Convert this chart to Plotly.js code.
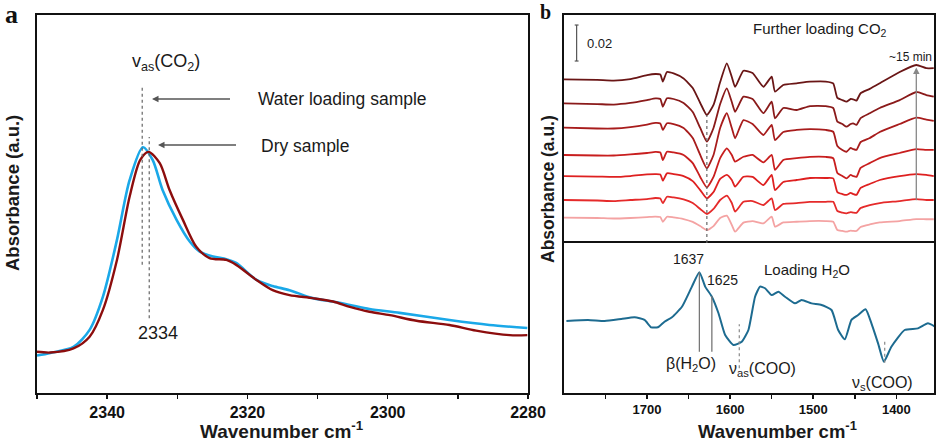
<!DOCTYPE html>
<html><head><meta charset="utf-8">
<script src="https://cdn.plot.ly/plotly-3.0.1.min.js"></script>
<style>html,body{margin:0;padding:0;background:#fff}#chart{width:942px;height:444px}</style>
</head><body><div id="chart"></div>
<script>
// ---------- Panel a : v_as(CO2) band ----------
const wnWater = [2350.0,2348.1,2344.8,2342.5,2340.6,2338.6,2336.8,2334.9,2333.5,2332.1,2330.1,2328.2,2326.8,2324.9,2323.0,2321.6,2318.7,2316.4,2314.0,2310.7,2307.8,2305.4,2302.6,2298.3,2291.2,2285.5,2280.1];
const absWater = [0.099,0.106,0.122,0.167,0.255,0.405,0.563,0.650,0.616,0.537,0.458,0.400,0.374,0.361,0.354,0.344,0.299,0.283,0.272,0.251,0.242,0.233,0.222,0.212,0.193,0.180,0.172];
const wnDry = [2350.0,2348.1,2344.8,2342.5,2340.6,2338.6,2336.8,2335.3,2334.1,2332.5,2331.1,2329.2,2327.3,2325.4,2323.0,2321.6,2318.7,2316.4,2314.0,2310.7,2307.8,2305.4,2302.6,2299.7,2295.9,2291.2,2287.4,2282.6,2280.1];
const absDry = [0.109,0.107,0.118,0.149,0.220,0.352,0.519,0.616,0.638,0.608,0.537,0.458,0.387,0.357,0.352,0.339,0.299,0.272,0.259,0.251,0.242,0.228,0.215,0.206,0.191,0.180,0.165,0.153,0.153];

// ---------- Panel b (top): further loading CO2, stacked spectra (x1e-3 a.u., offset) ----------
const wnCO2 = [1800,1760,1740,1720,1700,1690,1684,1681,1676,1668,1656,1645,1636,1628,1620,1612,1604,1598,1594,1584,1573,1560,1550,1546,1536,1520,1504,1485,1476,1471,1465,1460,1455,1452,1448,1443,1432,1420,1396,1376,1364,1355];
const co2_t7 = [90.9,90.6,90.2,91.1,93.3,93.9,93.6,89.7,95.0,94.2,91.4,86.1,77.8,71.1,76.7,89.4,99.8,92.2,86.7,95.7,94.4,86.8,92.4,84.1,87.8,88.7,89.6,89.7,88.7,80.6,79.4,78.5,80.0,79.8,79.1,83.2,85.6,88.7,95.0,98.9,97.1,97.1];
const co2_t6 = [77.6,77.2,76.9,77.8,79.4,80.3,80.0,75.7,80.4,80.0,77.8,72.8,63.9,56.3,63.9,77.2,85.9,78.3,72.9,81.3,80.0,72.1,78.5,69.3,75.0,73.9,76.1,76.1,75.0,67.4,66.1,64.6,66.1,66.5,65.6,69.4,72.1,75.0,79.4,83.9,82.2,81.3];
const co2_t5 = [64.1,63.6,63.6,64.4,65.8,66.7,66.4,62.8,66.5,66.1,63.9,58.3,48.9,41.5,48.9,63.9,72.1,63.9,58.2,68.3,66.1,60.0,65.6,57.2,61.7,62.8,63.3,62.8,61.8,53.9,51.7,50.7,52.8,52.2,51.7,56.1,58.3,61.7,66.1,69.6,68.6,67.9];
const co2_t4 = [48.9,48.6,48.6,49.2,50.0,50.6,50.3,46.1,50.7,50.3,48.9,44.4,36.7,30.9,36.7,47.2,52.6,48.9,45.2,47.9,48.9,44.8,48.9,40.6,46.1,47.1,47.8,47.8,47.1,38.9,37.2,35.9,37.8,37.2,36.7,41.7,44.4,47.2,50.0,52.2,51.7,51.7];
const co2_t3 = [37.2,36.9,36.7,37.2,38.1,38.3,38.1,34.6,38.7,38.3,37.2,34.4,29.4,24.8,28.3,35.6,37.8,35.0,31.3,36.8,36.7,32.2,37.8,29.4,33.9,35.0,36.1,36.1,35.9,28.3,27.2,26.7,27.8,27.2,26.7,30.6,32.8,35.0,37.2,38.3,37.8,37.2];
const co2_t2 = [23.9,23.6,23.3,23.9,24.4,25.0,24.7,22.1,25.7,25.3,24.2,22.2,18.9,16.1,18.9,23.9,26.3,22.2,17.4,22.9,23.3,21.1,24.8,18.3,21.7,22.1,22.8,22.9,22.9,17.8,16.9,16.5,17.2,16.9,16.7,19.4,21.1,22.2,23.3,24.4,23.9,23.9];
const co2_t1 = [14.1,13.9,13.6,13.9,14.4,14.7,14.4,11.8,14.6,14.2,13.3,11.7,9.4,7.2,9.4,13.9,15.2,10.0,6.3,11.3,12.2,10.9,14.6,9.1,11.4,11.8,12.2,12.2,11.8,7.2,6.7,6.3,6.9,6.7,6.7,8.9,10.3,11.4,12.2,13.3,13.2,13.2];
const co2Colors = ['#f4a3a3','#e52a2a','#de2020','#c81e1e','#a81c1c','#8a1a1a','#6a1616'];

// ---------- Panel b (bottom): loading H2O ----------
const wnH2O = [1797,1771,1751,1731,1715,1703,1695,1687,1679,1670,1658,1646,1637,1630,1622,1614,1606,1596,1586,1578,1570,1564,1558,1550,1542,1534,1522,1514,1502,1490,1478,1470,1462,1454,1446,1437,1430,1422,1415,1406,1390,1374,1362,1352];
const absH2O = [40.0,40.6,40.0,41.1,42.1,40.6,36.5,36.5,39.6,42.1,47.9,59.1,67.1,59.1,53.5,44.3,32.2,26.7,28.5,35.0,53.5,59.1,58.2,54.4,56.3,53.5,49.8,51.7,49.8,48.9,46.1,35.0,29.8,40.6,43.3,46.5,38.7,27.6,17.4,25.7,35.0,35.9,38.7,36.5];

const FONT = 'Liberation Sans, Arial, sans-serif';
const SERIF = 'Liberation Serif, Times New Roman, serif';
const W = 942, H = 444;
const X = p => p / W, Y = p => 1 - p / H;

const traces = [
  {x: wnWater, y: absWater, xaxis: 'x', yaxis: 'y', mode: 'lines', line: {color: '#1aa8e8', width: 2.6, shape: 'spline', smoothing: 0.8}},
  {x: wnDry, y: absDry, xaxis: 'x', yaxis: 'y', mode: 'lines', line: {color: '#8c0d0d', width: 2.4, shape: 'spline', smoothing: 0.8}},
];
const co2Series = [co2_t1, co2_t2, co2_t3, co2_t4, co2_t5, co2_t6, co2_t7];
co2Series.forEach((s, i) => traces.push({x: wnCO2, y: s, xaxis: 'x3', yaxis: 'y3', mode: 'lines',
  line: {color: co2Colors[i], width: 1.8, shape: 'spline', smoothing: 0.5}}));
traces.push({x: wnH2O, y: absH2O, xaxis: 'x2', yaxis: 'y2', mode: 'lines', line: {color: '#1d6b90', width: 2, shape: 'spline', smoothing: 0.5}});

const axLine = {showline: true, mirror: true, linecolor: '#111', linewidth: 1.8, showgrid: false, zeroline: false};
const tickStyle = {ticks: 'outside', ticklen: 4, tickwidth: 1.5, tickcolor: '#111'};

const ann = (text, px, py, size, extra) => Object.assign({xref: 'paper', yref: 'paper', x: X(px), y: Y(py), text: text, showarrow: false,
  font: {family: FONT, size: size, color: '#1a1a1a'}, xanchor: 'center', yanchor: 'middle'}, extra || {});

const annotations = [
  ann('<b>a</b>', 11.5, 14, 26, {font: {family: SERIF, size: 26, color: '#111'}}),
  ann('<b>b</b>', 545, 0, 20, {yanchor: 'top', borderpad: 0, font: {family: SERIF, size: 20, color: '#111'}}),
  ann('<b>Absorbance (a.u.)</b>', 12, 193, 18.5, {textangle: -90}),
  ann('<b>Absorbance (a.u.)</b>', 548, 189, 17.5, {textangle: -90}),
  ann('<b>Wavenumber cm<sup>-1</sup></b>', 282, 430, 19),
  ann('<b>Wavenumber cm<sup>-1</sup></b>', 777, 430, 18.5),
  ann('v<sub>as</sub>(CO<sub>2</sub>)', 166, 62, 18),
  ann('Water loading sample', 256, 99, 17.5, {xanchor: 'left'}),
  ann('Dry sample', 259, 146, 17.5, {xanchor: 'left'}),
  {xref: 'paper', yref: 'paper', x: X(152), y: Y(99), ax: 81, ay: 0, text: ' ', showarrow: true, arrowhead: 2, arrowsize: 1, arrowwidth: 1.3, arrowcolor: '#555'},
  {xref: 'paper', yref: 'paper', x: X(158), y: Y(145), ax: 81, ay: 0, text: ' ', showarrow: true, arrowhead: 2, arrowsize: 1, arrowwidth: 1.3, arrowcolor: '#555'},
  ann('2334', 158, 333, 18),
  ann('0.02', 585, 43, 13, {xanchor: 'left'}),
  ann('Further loading CO<sub>2</sub>', 820, 29, 15),
  ann('~15 min', 910, 57, 12),
  {xref: 'x3', yref: 'y3', axref: 'x3', ayref: 'y3', x: 1376, y: 97.5, ax: 1376, ay: 19, text: ' ', showarrow: true, arrowhead: 2, arrowsize: 1, arrowwidth: 1.3, arrowcolor: '#888'},
  ann('1637', 688, 259, 14),
  ann('1625', 722, 280, 14),
  ann('Loading H<sub>2</sub>O', 807, 270, 15),
  ann('β(H<sub>2</sub>O)', 691, 364, 16),
  ann('ν<sub>as</sub>(COO)', 762, 369, 16),
  ann('ν<sub>s</sub>(COO)', 882, 383, 16),
];

const shapes = [
  {type: 'line', xref: 'x', yref: 'y', x0: 2335, x1: 2335, y0: 0.339, y1: 0.81, line: {color: '#666', width: 1.2, dash: 'dot'}},
  {type: 'line', xref: 'x', yref: 'y', x0: 2334, x1: 2334, y0: 0.198, y1: 0.677, line: {color: '#666', width: 1.2, dash: 'dot'}},
  // scale bar 0.02
  {type: 'line', xref: 'x3', yref: 'y3', x0: 1784.7, x1: 1784.7, y0: 101.1, y1: 121.1, line: {color: '#555', width: 1.2}},
  {type: 'line', xref: 'x3', yref: 'y3', x0: 1787, x1: 1782.4, y0: 101.1, y1: 101.1, line: {color: '#555', width: 1.2}},
  {type: 'line', xref: 'x3', yref: 'y3', x0: 1787, x1: 1782.4, y0: 121.1, y1: 121.1, line: {color: '#555', width: 1.2}},
  {type: 'line', xref: 'x3', yref: 'y3', x0: 1628, x1: 1628, y0: 0, y1: 71, line: {color: '#666', width: 1.2, dash: 'dot'}},
  {type: 'line', xref: 'x2', yref: 'y2', x0: 1637, x1: 1637, y0: 22.9, y1: 67.1, line: {color: '#777', width: 1.3}},
  {type: 'line', xref: 'x2', yref: 'y2', x0: 1622, x1: 1622, y0: 22.9, y1: 53.9, line: {color: '#777', width: 1.3}},
  {type: 'line', xref: 'x2', yref: 'y2', x0: 1589, x1: 1589, y0: 13.7, y1: 38.2, line: {color: '#888', width: 1.2, dash: 'dot'}},
  {type: 'line', xref: 'x2', yref: 'y2', x0: 1414, x1: 1414, y0: 16.8, y1: 29.1, line: {color: '#888', width: 1.2, dash: 'dot'}},
];

const layout = {
  width: W, height: H, margin: {l: 0, r: 0, t: 0, b: 0}, showlegend: false,
  paper_bgcolor: '#fff', plot_bgcolor: '#fff', font: {family: FONT, color: '#111'},
  xaxis: Object.assign({}, axLine, tickStyle, {domain: [X(37), X(528)], range: [2350, 2280], anchor: 'y',
    tickmode: 'linear', tick0: 2280, dtick: 20, minor: {dtick: 10, tick0: 2280, ticks: 'outside', ticklen: 4, tickwidth: 1.5, tickcolor: '#111'},
    tickfont: {family: FONT, size: 16, color: '#111', weight: 'bold'}}),
  yaxis: Object.assign({}, axLine, {domain: [Y(393), Y(15)], range: [0, 1], anchor: 'x', showticklabels: false, ticks: ''}),
  xaxis2: Object.assign({}, axLine, tickStyle, {domain: [X(564), X(934)], range: [1799.9, 1354.7], anchor: 'y2',
    tickmode: 'linear', tick0: 1400, dtick: 100, minor: {dtick: 50, tick0: 1400, ticks: 'outside', ticklen: 4, tickwidth: 1.5, tickcolor: '#111'},
    tickfont: {family: FONT, size: 13, color: '#111', weight: 'bold'}}),
  yaxis2: Object.assign({}, axLine, {domain: [Y(393), Y(243)], range: [0, 83.33], anchor: 'x2', showticklabels: false, ticks: ''}),
  xaxis3: Object.assign({}, axLine, {mirror: false, side: 'top', domain: [X(564), X(934)], range: [1799.9, 1354.7], anchor: 'y3', showticklabels: false, ticks: ''}),
  yaxis3: Object.assign({}, axLine, {domain: [Y(243), Y(15)], range: [0, 126.67], anchor: 'x3', showticklabels: false, ticks: ''}),
  annotations: annotations, shapes: shapes,
};
Plotly.newPlot('chart', traces, layout, {staticPlot: true, displayModeBar: false});
</script></body></html>
